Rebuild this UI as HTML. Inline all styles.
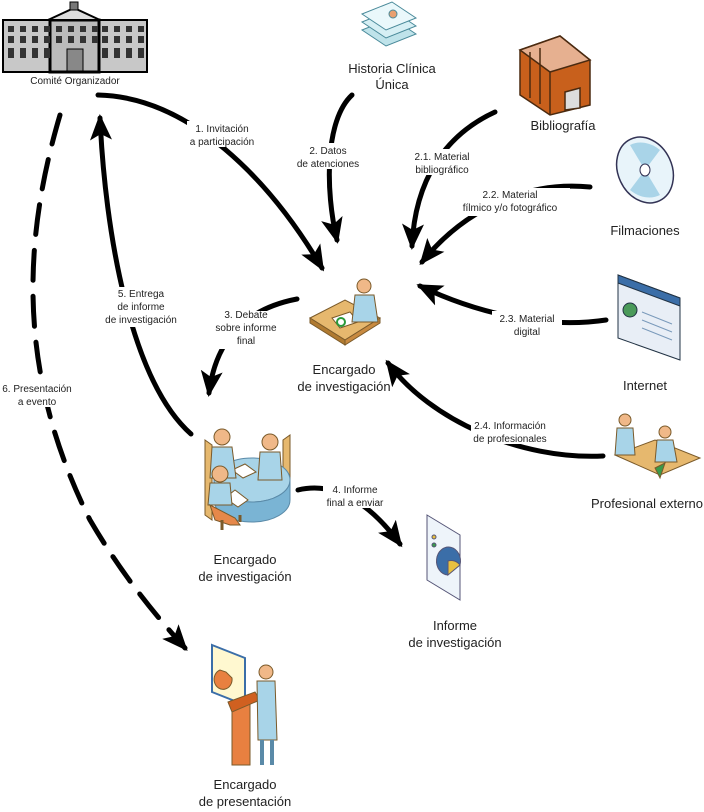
<!DOCTYPE html>
<html><head><meta charset="utf-8"><style>
html,body{margin:0;padding:0;background:#fff}
svg{display:block}
text{font-family:"Liberation Sans",sans-serif;fill:#222}
.l{font-size:10px}
.n{font-size:13px}
</style></head><body>
<svg width="704" height="812" viewBox="0 0 704 812" xmlns="http://www.w3.org/2000/svg">
<defs>
<marker id="a" markerUnits="userSpaceOnUse" markerWidth="28" markerHeight="26" refX="22" refY="13" orient="auto">
<path d="M0,2 L26,13 L0,24 L6,13 Z" fill="#000"/></marker>
</defs>
<g fill="none" stroke="#000" stroke-width="5" stroke-linecap="round">
<path d="M98,95 C190,97 270,180 322,268" marker-end="url(#a)"/>
<path d="M352,95 C325,120 325,190 337,240" marker-end="url(#a)"/>
<path d="M495,112 C445,135 415,180 412,246" marker-end="url(#a)"/>
<path d="M590,187 C520,180 460,215 422,262" marker-end="url(#a)"/>
<path d="M606,320 C540,330 470,310 420,286" marker-end="url(#a)"/>
<path d="M603,456 C520,460 430,420 388,363" marker-end="url(#a)"/>
<path d="M297,299 C240,310 215,345 209,393" marker-end="url(#a)"/>
<path d="M298,490 C340,480 375,510 400,544" marker-end="url(#a)"/>
<path d="M191,434 C130,380 105,230 100,118" marker-end="url(#a)"/>
<path d="M60,115 C20,250 20,380 90,520 C125,580 160,620 185,648" stroke-dasharray="30,16" marker-end="url(#a)"/>
</g>
<g fill="#fff">
<rect x="187" y="121" width="70" height="26"/>
<rect x="295" y="143" width="66" height="26"/>
<rect x="411" y="149" width="62" height="26"/>
<rect x="460" y="188" width="110" height="28"/>
<rect x="492" y="311" width="70" height="26"/>
<rect x="471" y="418" width="80" height="26"/>
<rect x="208" y="311" width="76" height="38"/>
<rect x="323" y="482" width="64" height="26"/>
<rect x="104" y="287" width="74" height="40"/>
<rect x="8" y="381" width="58" height="26"/>
</g>
<g class="l" text-anchor="middle">
<text x="222" y="132">1. Invitación</text><text x="222" y="145">a participación</text>
<text x="328" y="154">2. Datos</text><text x="328" y="167">de atenciones</text>
<text x="442" y="160">2.1. Material</text><text x="442" y="173">bibliográfico</text>
<text x="510" y="198">2.2. Material</text><text x="510" y="211">fílmico y/o fotográfico</text>
<text x="527" y="322">2.3. Material</text><text x="527" y="335">digital</text>
<text x="510" y="429">2.4. Información</text><text x="510" y="442">de profesionales</text>
<text x="246" y="318">3. Debate</text><text x="246" y="331">sobre informe</text><text x="246" y="344">final</text>
<text x="355" y="493">4. Informe</text><text x="355" y="506">final a enviar</text>
<text x="141" y="297">5. Entrega</text><text x="141" y="310">de informe</text><text x="141" y="323">de investigación</text>
<text x="37" y="392">6. Presentación</text><text x="37" y="405">a evento</text>
</g>
<g class="n" text-anchor="middle">
<text x="75" y="84" style="font-size:10px">Comité Organizador</text>
<text x="392" y="73">Historia Clínica</text><text x="392" y="89">Única</text>
<text x="563" y="130">Bibliografía</text>
<text x="645" y="235">Filmaciones</text>
<text x="645" y="390">Internet</text>
<text x="647" y="508">Profesional externo</text>
<text x="344" y="374">Encargado</text><text x="344" y="391">de investigación</text>
<text x="245" y="564">Encargado</text><text x="245" y="581">de investigación</text>
<text x="455" y="630">Informe</text><text x="455" y="647">de investigación</text>
<text x="245" y="789">Encargado</text><text x="245" y="806">de presentación</text>
</g>
<g stroke="#000">
<rect x="3" y="20" width="144" height="52" fill="#c8c8c8" stroke-width="2"/>
<rect x="50" y="20" width="49" height="52" fill="#bbb" stroke-width="3"/>
<path d="M48,20 L74,8 L100,20 Z" fill="#ddd" stroke-width="2"/>
<rect x="70" y="2" width="8" height="8" fill="#777"/>
<rect x="67" y="49" width="16" height="22" fill="#888"/>
</g>
<g fill="#333">
<rect x="8" y="26" width="6" height="6"/><rect x="20" y="26" width="6" height="6"/><rect x="32" y="26" width="6" height="6"/><rect x="44" y="26" width="6" height="6"/>
<rect x="8" y="36" width="6" height="7"/><rect x="20" y="36" width="6" height="7"/><rect x="32" y="36" width="6" height="7"/><rect x="44" y="36" width="6" height="7"/>
<rect x="8" y="48" width="6" height="10"/><rect x="20" y="48" width="6" height="10"/><rect x="32" y="48" width="6" height="10"/><rect x="44" y="48" width="6" height="10"/>
<rect x="56" y="26" width="6" height="6"/><rect x="68" y="26" width="6" height="6"/><rect x="80" y="26" width="6" height="6"/><rect x="92" y="26" width="6" height="6"/>
<rect x="56" y="36" width="6" height="7"/><rect x="68" y="36" width="6" height="7"/><rect x="80" y="36" width="6" height="7"/><rect x="92" y="36" width="6" height="7"/>
<rect x="102" y="26" width="6" height="6"/><rect x="114" y="26" width="6" height="6"/><rect x="126" y="26" width="6" height="6"/><rect x="138" y="26" width="6" height="6"/>
<rect x="102" y="36" width="6" height="7"/><rect x="114" y="36" width="6" height="7"/><rect x="126" y="36" width="6" height="7"/><rect x="138" y="36" width="6" height="7"/>
<rect x="102" y="48" width="6" height="10"/><rect x="114" y="48" width="6" height="10"/><rect x="126" y="48" width="6" height="10"/><rect x="138" y="48" width="6" height="10"/>
</g>
<g stroke="#4a8a9a" stroke-width="1">
<path d="M362,30 L392,18 L416,34 L386,46 Z" fill="#bfe3ea"/>
<path d="M362,22 L392,10 L416,26 L386,38 Z" fill="#d6eff4"/>
<path d="M362,14 L392,2 L416,18 L386,30 Z" fill="#eaf8fb"/>
<circle cx="393" cy="14" r="4" fill="#e8a070"/>
</g>
<g stroke="#4a2a10" stroke-width="1.5">
<path d="M520,50 L560,36 L590,60 L590,105 L550,115 L520,95 Z" fill="#c8601c"/>
<path d="M520,50 L560,36 L590,60 L550,72 Z" fill="#e6b090"/>
<path d="M530,52 L530,98 M540,48 L540,104 M550,72 L550,115" />
<path d="M565,92 L580,88 L580,108 L565,110 Z" fill="#ddd"/>
</g>
<g>
<ellipse cx="645" cy="170" rx="27" ry="34" transform="rotate(-25 645 170)" fill="#e8f4fa" stroke="#335" stroke-width="1.5"/>
<path d="M645,170 L630,145 A28,34 -25 0 1 660,150 Z" fill="#a9d4e8"/>
<path d="M645,170 L660,195 A28,34 -25 0 1 630,190 Z" fill="#a9d4e8"/>
<ellipse cx="645" cy="170" rx="5" ry="6" fill="#fff" stroke="#335"/>
</g>
<g stroke="#234" stroke-width="1">
<path d="M618,275 L680,298 L680,360 L618,338 Z" fill="#e8eef6"/>
<path d="M618,275 L680,298 L680,306 L618,283 Z" fill="#3b6ea8"/>
<circle cx="630" cy="310" r="7" fill="#4a9a5a"/>
<path d="M642,312 L672,324 M642,320 L672,332 M642,328 L672,340" stroke="#7a9abb"/>
</g>
<g stroke="#7a5a2a" stroke-width="1">
<path d="M615,455 L655,440 L700,458 L660,475 Z" fill="#e6b86e"/>
<path d="M655,468 L665,463 L660,478 Z" fill="#3a9a4a"/>
<circle cx="625" cy="420" r="6" fill="#f0b888"/>
<path d="M617,428 L633,428 L635,455 L615,455 Z" fill="#a8d4e8"/>
<circle cx="665" cy="432" r="6" fill="#f0b888"/>
<path d="M657,440 L673,440 L677,462 L655,462 Z" fill="#a8d4e8"/>
</g>
<g stroke="#7a5a2a" stroke-width="1">
<path d="M310,318 L345,300 L380,318 L345,340 Z" fill="#e6b86e"/>
<path d="M310,318 L345,340 L345,345 L310,323 Z" fill="#b07a30"/>
<path d="M345,340 L380,318 L380,323 L345,345 Z" fill="#c88a40"/>
<path d="M332,318 L350,312 L358,322 L340,328 Z" fill="#fff"/>
<circle cx="341" cy="322" r="4" fill="none" stroke="#2a9a3a" stroke-width="2"/>
<circle cx="364" cy="286" r="7" fill="#f0b888"/>
<path d="M355,295 L374,295 L378,322 L352,322 Z" fill="#a8d4e8"/>
</g>
<g stroke="#7a5a2a" stroke-width="1">
<path d="M205,440 L212,445 L212,520 L205,515 Z" fill="#e6b86e"/>
<path d="M283,440 L290,435 L290,495 L283,500 Z" fill="#e6b86e"/>
<ellipse cx="252" cy="480" rx="38" ry="22" fill="#a8d4e8" stroke="#5a8aa8"/>
<path d="M214,480 L214,500 A38,22 0 0 0 290,500 L290,480 A38,22 0 0 1 214,480 Z" fill="#7ab4d4" stroke="#5a8aa8"/>
<path d="M225,498 L235,490 L248,500 L238,507 Z" fill="#fff"/>
<path d="M232,470 L245,464 L256,472 L243,478 Z" fill="#fff"/>
<circle cx="222" cy="437" r="8" fill="#f0b888"/>
<path d="M212,447 L232,447 L236,478 L210,478 Z" fill="#a8d4e8"/>
<circle cx="270" cy="442" r="8" fill="#f0b888"/>
<path d="M260,452 L280,452 L282,480 L258,480 Z" fill="#a8d4e8"/>
<circle cx="220" cy="474" r="8" fill="#f0b888"/>
<path d="M210,483 L230,483 L232,505 L208,505 Z" fill="#a8d4e8"/>
<path d="M210,505 L235,518 L240,525 L230,525 L215,520 Z" fill="#e6884a"/>
<path d="M222,520 L222,530 M240,515 L240,522" stroke-width="3"/>
</g>
<g stroke="#557" stroke-width="1">
<path d="M427,515 L460,535 L460,600 L427,580 Z" fill="#eef4fa"/>
<path d="M448,575 A12,14 0 1 1 460,565" fill="#3b6ea8"/>
<path d="M448,575 L460,565 A12,14 0 0 0 448,561 Z" fill="#e8c040"/>
<circle cx="434" cy="537" r="2" fill="#e8c040"/><circle cx="434" cy="545" r="2" fill="#3a9a4a"/>
</g>
<g stroke="#7a5a2a" stroke-width="1">
<path d="M212,645 L245,658 L245,705 L212,692 Z" fill="#fff8d0" stroke="#3b6ea8" stroke-width="2"/>
<path d="M220,670 A9,10 0 1 0 232,678 L226,672 Z" fill="#e88040"/>
<path d="M232,708 L250,700 L250,765 L232,765 Z" fill="#e88040"/>
<path d="M228,702 L255,692 L260,700 L232,712 Z" fill="#d06020"/>
<circle cx="266" cy="672" r="7" fill="#f0b888"/>
<path d="M257,681 L275,681 L277,740 L258,740 Z" fill="#a8d4e8"/>
<path d="M262,740 L262,765 M272,740 L272,765" stroke="#5a8aa8" stroke-width="4"/>
</g>
</svg>
</body></html>
